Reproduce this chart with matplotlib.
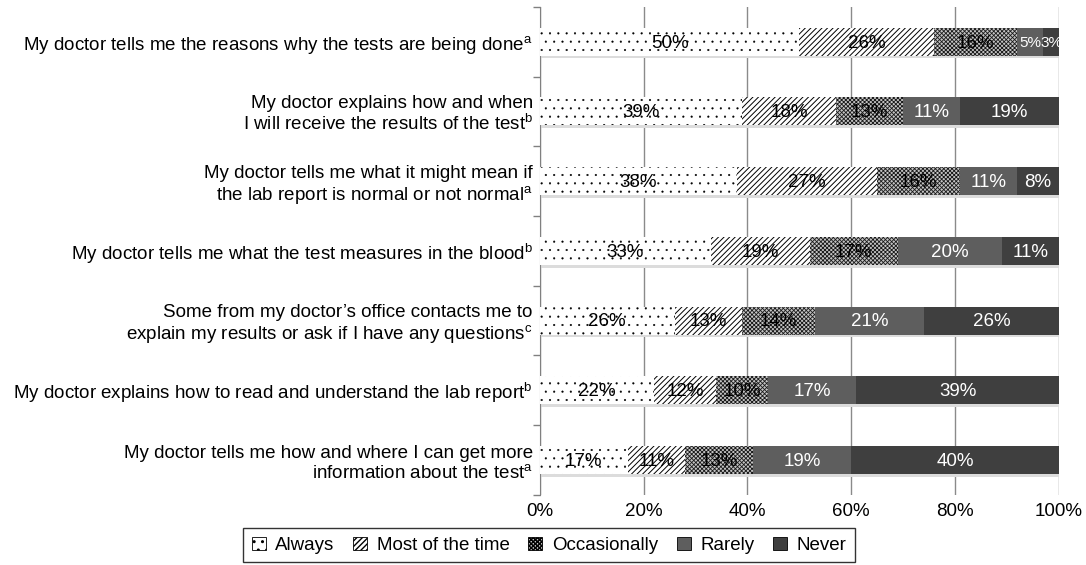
import numpy as np
import matplotlib
matplotlib.use('Agg')
import matplotlib.pyplot as plt
from matplotlib.patches import Patch

plt.rcParams['font.family'] = ['Liberation Sans', 'DejaVu Sans']
plt.rcParams['mathtext.fontset'] = 'custom'
plt.rcParams['mathtext.rm'] = 'Liberation Sans'
plt.rcParams['mathtext.it'] = 'Liberation Sans'

questions = [
    r'My doctor tells me the reasons why the tests are being done$^{\mathrm{a}}$',
    'My doctor explains how and when\n' r'I will receive the results of the test$^{\mathrm{b}}$',
    'My doctor tells me what it might mean if\n' r'the lab report is normal or not normal$^{\mathrm{a}}$',
    r'My doctor tells me what the test measures in the blood$^{\mathrm{b}}$',
    'Some from my doctor\u2019s office contacts me to\n' r'explain my results or ask if I have any questions$^{\mathrm{c}}$',
    r'My doctor explains how to read and understand the lab report$^{\mathrm{b}}$',
    'My doctor tells me how and where I can get more\n' r'information about the test$^{\mathrm{a}}$',
]
responses = ['Always', 'Most of the time', 'Occasionally', 'Rarely', 'Never']

always       = [50, 39, 38, 33, 26, 22, 17]
most_time    = [26, 18, 27, 19, 13, 12, 11]
occasionally = [16, 13, 16, 17, 14, 10, 13]
rarely       = [5, 11, 11, 20, 21, 17, 19]
never        = [3, 19, 8, 11, 26, 39, 40]
series = [always, most_time, occasionally, rarely, never]

# style per response
faces   = ['white', 'white', '#c4c4c4', '#5e5e5e', '#3f3f3f']
hatches = ['..', '//////', 'xxxxxxxx', None, None]
hcols   = ['black', 'black', '#1a1a1a', '#5e5e5e', '#3f3f3f']
hlw     = [0.3, 0.7, 0.6, 0.7, 0.7]
txtcol  = ['black', 'black', 'black', 'white', 'white']
fsz = 13.5

fig = plt.figure(figsize=(10.86, 5.65), dpi=100)
fig.set_facecolor('white')
ax = fig.add_axes([0.497, 0.124, 0.478, 0.864])

ypos = np.arange(len(questions))
bh = 0.4

# light shadow below each bar
ax.barh(ypos + 0.04, 100, height=bh, left=0, color='#dcdcdc', edgecolor='none', zorder=2)

left = np.zeros(len(questions))
for i, vals in enumerate(series):
    vals = np.array(vals, dtype=float)
    with plt.rc_context({'hatch.linewidth': hlw[i]}):
        ax.barh(ypos, vals, height=bh, left=left, color=faces[i], hatch=hatches[i],
                edgecolor=hcols[i], linewidth=0, zorder=3)
    for j, v in enumerate(vals):
        fs = fsz if v >= 6 else 11
        ax.text(left[j] + v / 2, ypos[j] + 0.02, '%d%%' % v, ha='center', va='center',
                color=txtcol[i], fontsize=fs, zorder=5)
    left += vals

ax.set_xlim(0, 100)
ax.set_ylim(len(questions) - 0.5, -0.5)
ax.set_xticks([0, 20, 40, 60, 80, 100])
ax.set_xticklabels(['0%', '20%', '40%', '60%', '80%', '100%'], fontsize=fsz)
ax.tick_params(axis='x', length=0, pad=6)

ax.set_yticks(np.arange(-0.5, len(questions), 1))
ax.set_yticklabels([])
ax.set_yticks(ypos, minor=True)
ax.set_yticklabels(questions, minor=True, fontsize=fsz, linespacing=1.15)
ax.tick_params(axis='y', which='major', length=5, color='#808080', width=1)
ax.tick_params(axis='y', which='minor', length=0, pad=5)

ax.xaxis.grid(True, color='#8a8a8a', linewidth=1)
ax.set_axisbelow(True)
for s in ['top', 'bottom', 'right']:
    ax.spines[s].set_visible(False)
ax.spines['left'].set_color('#808080')

handles = []
for i in range(len(responses)):
    with plt.rc_context({'hatch.linewidth': 0.6}):
        handles.append(Patch(facecolor=faces[i], hatch=hatches[i], edgecolor='black', linewidth=0.6))
leg = fig.legend(handles, responses, loc='lower center', ncol=5, bbox_to_anchor=(0.5055, -0.012),
                 fontsize=fsz, frameon=True, fancybox=False, edgecolor='black',
                 handlelength=0.75, handleheight=0.75, handletextpad=0.5, columnspacing=1.0,
                 borderpad=0.45)
leg.get_frame().set_linewidth(1)

fig.savefig('out.png', dpi=100, facecolor='white')
